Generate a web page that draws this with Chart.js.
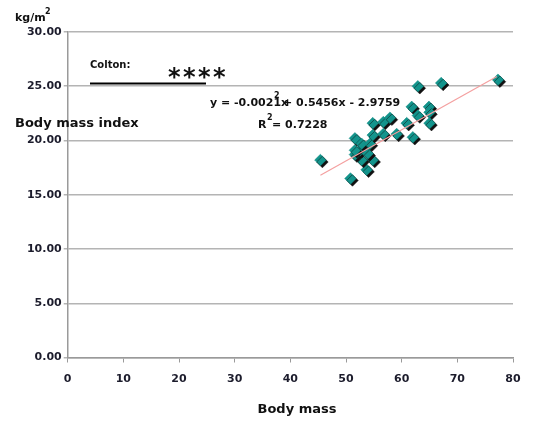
<!DOCTYPE html>
<html>
<head>
<meta charset="utf-8">
<script src="https://cdn.jsdelivr.net/npm/chart.js@4/dist/chart.umd.min.js"></script>
<style>
  html,body{margin:0;padding:0;background:#fff;}
  #wrap{width:536px;height:421px;position:relative;}
</style>
</head>
<body>
<div id="wrap"><canvas id="c" width="536" height="421"></canvas></div>
<script>
// body mass (x) vs body mass index (y)
const massValues = [45.4, 50.8, 53.7, 54.8, 52.8, 51.6, 52.5, 53.9, 51.6, 51.6, 52.8, 54.3,
  54.8, 54.8, 56.7, 56.7, 57.9, 59.1, 60.9, 62.0, 61.8, 62.9, 64.9, 65.0, 65.0, 62.9, 67.1, 77.3];
const bmiValues = [18.2, 16.5, 17.3, 18.2, 18.2, 18.7, 19.1, 18.8, 19.1, 20.2, 19.7, 19.7,
  21.6, 20.5, 21.7, 20.6, 22.1, 20.6, 21.6, 20.3, 23.1, 22.3, 23.1, 22.6, 21.6, 25.0, 25.3, 25.6];
// trend line ends as drawn
const trendX = [45.4, 77.1];
const trendY = [16.8, 25.9];
const xTicks = [0, 10, 20, 30, 40, 50, 60, 70, 80];
const yTicks = [0, 5, 10, 15, 20, 25, 30];

const pts = massValues.map((x,i)=>({x, y: bmiValues[i]}));
const trend = trendX.map((x,i)=>({x, y: trendY[i]}));

const FONT = "'DejaVu Sans', Verdana, sans-serif";

// dark drop shadow under the diamonds
const shadowPlugin = {
  id:'shadow',
  beforeDatasetDraw(chart, args){
    if(args.index!==1) return;
    const ctx = chart.ctx;
    ctx.save();
    ctx.shadowColor = '#111';
    ctx.shadowOffsetX = 2;
    ctx.shadowOffsetY = 2;
    ctx.shadowBlur = 0;
  },
  afterDatasetDraw(chart, args){
    if(args.index!==1) return;
    chart.ctx.restore();
  }
};

// free texts: unit, y title, legend note, equation
const textPlugin = {
  id:'texts',
  afterDraw(chart){
    const ctx = chart.ctx;
    ctx.save();
    ctx.fillStyle = '#111';
    ctx.textBaseline = 'middle';
    ctx.textAlign = 'left';
    ctx.font = 'bold 11px ' + FONT;
    ctx.fillText('kg/m', 15, 18);
    ctx.font = 'bold 8px ' + FONT;
    ctx.fillText('2', 45, 12);
    ctx.font = 'bold 13px ' + FONT;
    ctx.fillText('Body mass index', 15, 124);
    ctx.textAlign = 'center';
    ctx.fillText('Body mass', 297, 410);
    ctx.textAlign = 'left';
    ctx.font = 'bold 10px ' + FONT;
    ctx.fillText('Colton:', 90, 65);
    ctx.font = 'bold 24px ' + FONT;
    ctx.fillText('*', 168, 79);
    ctx.fillText('*', 183, 79);
    ctx.fillText('*', 198, 79);
    ctx.fillText('*', 213, 79);
    ctx.strokeStyle = '#000';
    ctx.lineWidth = 2;
    ctx.beginPath();
    ctx.moveTo(90, 83.5);
    ctx.lineTo(206, 83.5);
    ctx.stroke();
    ctx.font = 'bold 11px ' + FONT;
    ctx.fillText('y = -0.0021x', 210, 103);
    ctx.fillText('+ 0.5456x - 2.9759', 283, 103);
    ctx.fillText('R', 258, 125);
    ctx.fillText('= 0.7228', 272, 125);
    ctx.font = 'bold 8px ' + FONT;
    ctx.fillText('2', 274, 96);
    ctx.fillText('2', 267, 118);
    ctx.restore();
  }
};

new Chart(document.getElementById('c'), {
  type:'scatter',
  data:{
    datasets:[
      {
        type:'line',
        data: trend,
        borderColor:'#f4a0a0',
        borderWidth:1.2,
        pointRadius:0,
        fill:false
      },
      {
        data: pts,
        pointStyle:'rectRot',
        pointRadius:5.8,
        backgroundColor:'#13948c',
        borderColor:'#0f8a82',
        borderWidth:0.5
      }
    ]
  },
  options:{
    responsive:false,
    animation:false,
    events:[],
    layout:{padding:{top:32, right:23, left:0, bottom:0}},
    plugins:{legend:{display:false}, tooltip:{enabled:false}},
    scales:{
      x:{
        type:'linear',
        min:0, max:80,
        afterBuildTicks(s){ s.ticks = xTicks.map(v=>({value:v})); },
        afterFit(s){ s.height = 63.5; },
        grid:{drawOnChartArea:false, color:'#9a9a9a', tickLength:5},
        border:{color:'#9a9a9a', width:1.5},
        ticks:{color:'#1c1c2c', padding:10, font:{family:FONT, weight:'bold', size:11}}
      },
      y:{
        min:0, max:30,
        afterBuildTicks(s){ s.ticks = yTicks.map(v=>({value:v})); },
        afterFit(s){ s.width = 67.7; },
        grid:{color:'#b4b4b4', lineWidth:1.5, tickLength:4},
        border:{color:'#9a9a9a', width:1.5},
        ticks:{color:'#1c1c2c', padding:2, font:{family:FONT, weight:'bold', size:11},
          callback:v=>v.toFixed(2)}
      }
    }
  },
  plugins:[shadowPlugin, textPlugin]
});
</script>
</body>
</html>
